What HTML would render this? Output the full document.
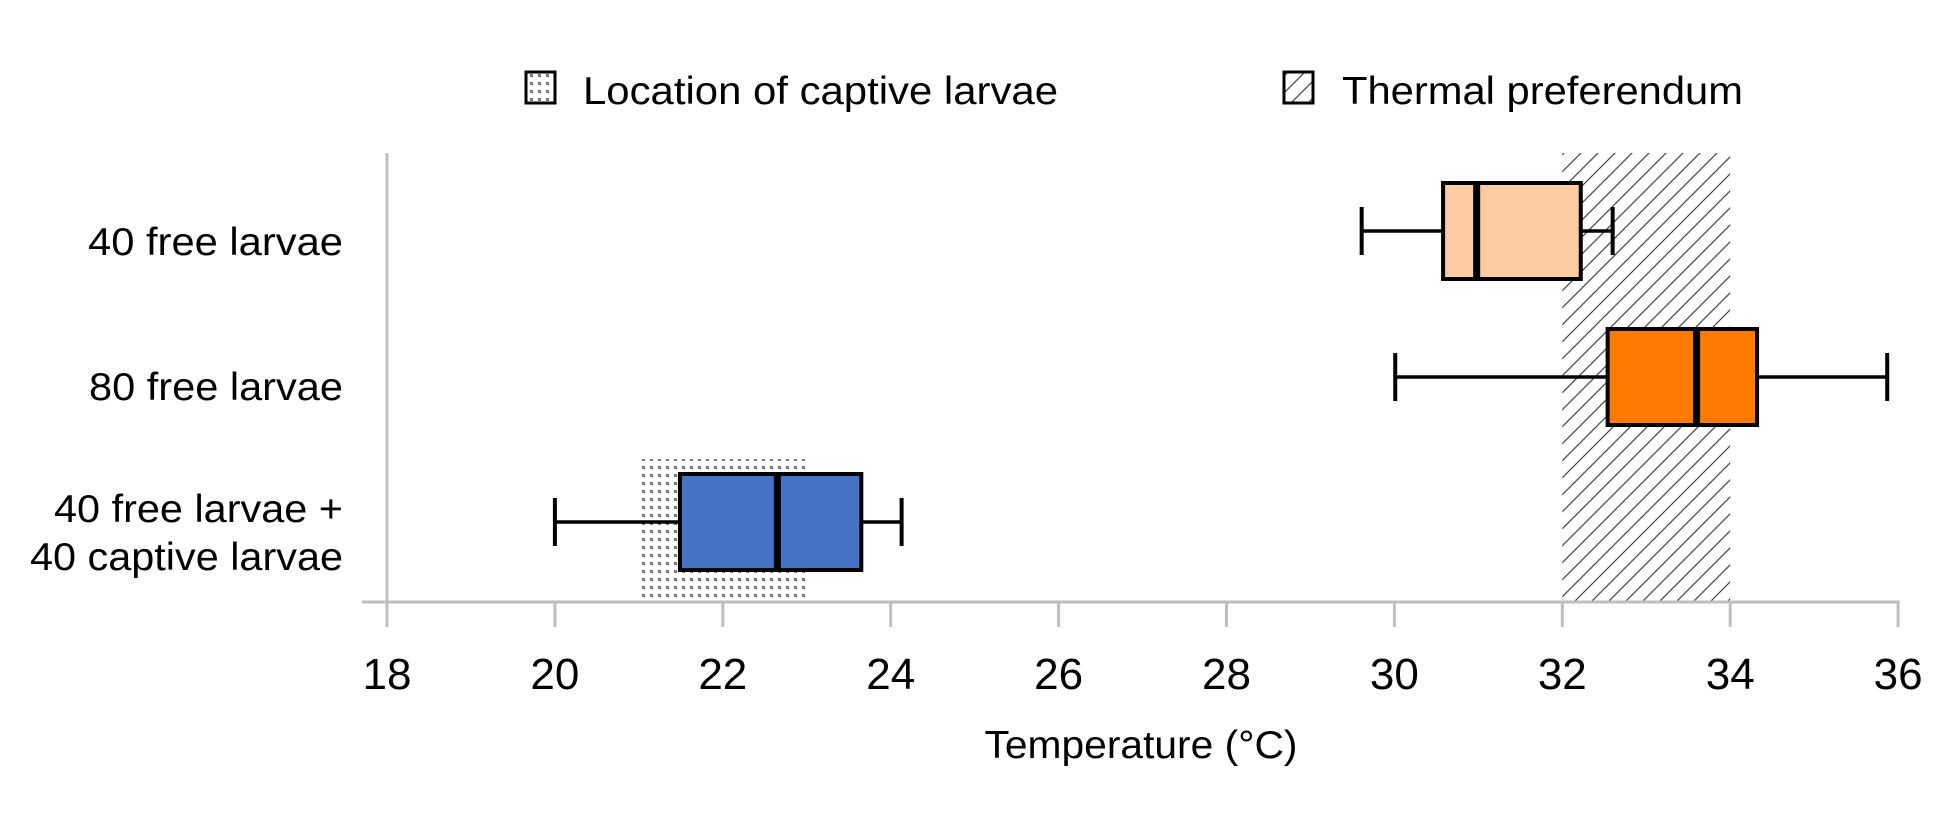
<!DOCTYPE html>
<html><head><meta charset="utf-8"><style>
html,body{margin:0;padding:0;background:#fff;}
svg{display:block;font-family:"Liberation Sans",sans-serif;}
</style></head><body>
<svg id="chart" width="1949" height="827" viewBox="0 0 1949 827">
<defs>
<pattern id="dots" width="8" height="8" patternUnits="userSpaceOnUse"><rect x="2" y="2" width="3" height="3" fill="#777"/></pattern>
<pattern id="hatch" width="17" height="17" patternUnits="userSpaceOnUse"><path d="M-2,19 L19,-2" stroke="#444" stroke-width="1.2"/><path d="M-2,2 L2,-2 M15,19 L19,15" stroke="#444" stroke-width="1.2"/></pattern>
</defs>
<g id="regions"></g>
<g id="axes"></g>
<g id="boxes"></g>
<g>
<rect x="526" y="72" width="29" height="31" fill="url(#dots)" stroke="#000" stroke-width="3"/>
<text x="583" y="104" font-size="39" textLength="475" lengthAdjust="spacingAndGlyphs">Location of captive larvae</text>
<rect x="1284" y="72" width="29" height="31" fill="url(#hatch)" stroke="#000" stroke-width="3"/>
<text x="1342" y="104" font-size="39" textLength="401" lengthAdjust="spacingAndGlyphs">Thermal preferendum</text>
</g>
<text x="1141" y="758" font-size="39" text-anchor="middle" textLength="313" lengthAdjust="spacingAndGlyphs">Temperature (°C)</text>
</svg>
<script>
const categories = ["40 free larvae", "80 free larvae", "40 free larvae + 40 captive larvae"];
const whiskerLow = [29.61, 30.01, 20.0];
const q1 = [30.58, 32.54, 21.49];
const median = [30.98, 33.6, 22.65];
const q3 = [32.22, 34.32, 23.65];
const whiskerHigh = [32.6, 35.87, 24.13];
const boxColors = ["#fdcba0", "#ff7a00", "#4472c4"];
const tickValues = [18, 20, 22, 24, 26, 28, 30, 32, 34, 36];
const tickLabels = ["18", "20", "22", "24", "26", "28", "30", "32", "34", "36"];
const captiveRange = [21, 23];
const thermalRange = [32, 34];

const NS = "http://www.w3.org/2000/svg";
const X0 = 387, XU = 83.95, AXY = 602;
function xs(v){ return X0 + (v - 18) * XU; }
const rowCenter = [231, 377, 522];
const boxH = 96, capH = 48;
function mk(tag, attrs, parent){ const e = document.createElementNS(NS, tag); for (const k in attrs) e.setAttribute(k, attrs[k]); parent.appendChild(e); return e; }

const regions = document.getElementById('regions');
let r1 = mk('rect', {x: xs(captiveRange[0]), y: 459, width: xs(captiveRange[1]) - xs(captiveRange[0]), height: AXY - 459, fill: 'url(#dots)'}, regions);


let r2 = mk('rect', {x: xs(thermalRange[0]), y: 153, width: xs(thermalRange[1]) - xs(thermalRange[0]), height: AXY - 153, fill: 'url(#hatch)'}, regions);



const axes = document.getElementById('axes');
let ya = mk('line', {x1: X0, y1: 153, x2: X0, y2: AXY, stroke: '#bfbfbf', 'stroke-width': 3}, axes);


let xa = mk('line', {x1: 362, y1: AXY, x2: xs(36) + 1.5, y2: AXY, stroke: '#bfbfbf', 'stroke-width': 3}, axes);


tickValues.forEach((v, i) => {
  let t = mk('line', {x1: xs(v), y1: AXY, x2: xs(v), y2: 627, stroke: '#bfbfbf', 'stroke-width': 3}, axes);
  
  
  let tl = mk('text', {x: xs(v), y: 689, 'font-size': 44, 'text-anchor': 'middle'}, axes);
  tl.textContent = tickLabels[i];
  
  
});
const labelLines = [["40 free larvae"], ["80 free larvae"], ["40 free larvae +", "40 captive larvae"]];
const labelBase = [[255], [400], [522, 570]];
const labelW = {"40 free larvae": 255, "80 free larvae": 254, "40 free larvae +": 289, "40 captive larvae": 313};
labelLines.forEach((lines, i) => {
  lines.forEach((s, j) => {
    let t = mk('text', {x: 343, y: labelBase[i][j], 'font-size': 39, 'text-anchor': 'end', textLength: labelW[s], lengthAdjust: 'spacingAndGlyphs'}, axes);
    t.textContent = s;
    
    
  });
});

const boxes = document.getElementById('boxes');
categories.forEach((c, i) => {
  const cy = rowCenter[i];
  const g = mk('g', {}, boxes);
  
  
  let w1 = mk('line', {x1: xs(whiskerLow[i]), y1: cy, x2: xs(q1[i]), y2: cy, stroke: '#000', 'stroke-width': 3.5}, g);
  
  
  let w2 = mk('line', {x1: xs(q3[i]), y1: cy, x2: xs(whiskerHigh[i]), y2: cy, stroke: '#000', 'stroke-width': 3.5}, g);
  
  
  let c1 = mk('line', {x1: xs(whiskerLow[i]), y1: cy - capH / 2, x2: xs(whiskerLow[i]), y2: cy + capH / 2, stroke: '#000', 'stroke-width': 4}, g);
  
  
  let c2 = mk('line', {x1: xs(whiskerHigh[i]), y1: cy - capH / 2, x2: xs(whiskerHigh[i]), y2: cy + capH / 2, stroke: '#000', 'stroke-width': 4}, g);
  
  
  let b = mk('rect', {x: xs(q1[i]), y: cy - boxH / 2, width: xs(q3[i]) - xs(q1[i]), height: boxH, fill: boxColors[i], stroke: '#000', 'stroke-width': 4}, g);
  
  
  let m = mk('line', {x1: xs(median[i]), y1: cy - boxH / 2, x2: xs(median[i]), y2: cy + boxH / 2, stroke: '#000', 'stroke-width': 7}, g);
  
  
});
</script>
</body></html>
